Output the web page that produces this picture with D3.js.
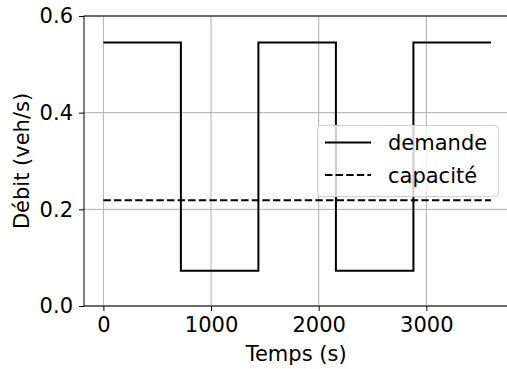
<!DOCTYPE html>
<html><head><meta charset="utf-8">
<script src="https://cdn.jsdelivr.net/npm/d3@7"></script>
<style>body{margin:0;background:#fff}svg{display:block}text{font-family:"DejaVu Sans",sans-serif;fill:#000}</style>
</head><body>
<svg id="c" width="507" height="369"></svg>
<script>
const demandTimes = [0, 720, 1440, 2160, 2880, 3600];
const demandValues = [0.545, 0.073, 0.545, 0.073, 0.545, 0.545];
const capacityTimes = [0, 3600];
const capacityValues = [0.219, 0.219];
const xTicks = [0, 1000, 2000, 3000];
const yTicks = [0.0, 0.2, 0.4, 0.6];
const legendLabels = ["demande", "capacité"];

const svg = d3.select("#c");
const L = 84, R = 510.3, T = 16, B = 306;
const x = d3.scaleLinear().domain([-180, 3780]).range([L, R]);
const y = d3.scaleLinear().domain([0, 0.6]).range([B, T]);
const fs = 21;

// grid
const g = svg.append("g");
g.selectAll(".gx").data(xTicks).enter().append("line")
  .attr("x1", d => x(d)).attr("x2", d => x(d)).attr("y1", T).attr("y2", B)
  .attr("stroke", "#b0b0b0").attr("stroke-width", 1);
g.selectAll(".gy").data(yTicks).enter().append("line")
  .attr("x1", L).attr("x2", R).attr("y1", d => y(d)).attr("y2", d => y(d))
  .attr("stroke", "#b0b0b0").attr("stroke-width", 1);

// lines
const dLine = d3.line().x(d => x(d[0])).y(d => y(d[1])).curve(d3.curveStepAfter);
svg.append("path").datum(demandTimes.map((t, i) => [t, demandValues[i]]))
  .attr("d", dLine).attr("fill", "none").attr("stroke", "#000").attr("stroke-width", 2);
const cLine = d3.line().x(d => x(d[0])).y(d => y(d[1]));
svg.append("path").datum(capacityTimes.map((t, i) => [t, capacityValues[i]]))
  .attr("d", cLine).attr("fill", "none").attr("stroke", "#000").attr("stroke-width", 2)
  .attr("stroke-dasharray", "7.4,3.2");

// axes
const xAxis = svg.append("g").attr("transform", `translate(0,${B})`)
  .call(d3.axisBottom(x).tickValues(xTicks).tickFormat(d3.format("d")).tickSize(5).tickPadding(6));
const yAxis = svg.append("g").attr("transform", `translate(${L},0)`)
  .call(d3.axisLeft(y).tickValues(yTicks).tickFormat(d3.format(".1f")).tickSize(5).tickPadding(6));
[xAxis, yAxis].forEach(a => {
  a.select(".domain").remove();
  a.selectAll("line").attr("stroke", "#000").attr("stroke-width", 1);
  a.selectAll("text").attr("font-size", fs).attr("font-family", "DejaVu Sans").attr("fill", "#000");
});
// spines
svg.append("rect").attr("x", L).attr("y", T).attr("width", R - L).attr("height", B - T)
  .attr("fill", "none").attr("stroke", "#000").attr("stroke-width", 1);

// labels
svg.append("text").attr("x", (L + R) / 2 - 1).attr("y", 361).attr("text-anchor", "middle")
  .attr("font-size", fs).text("Temps (s)");
svg.append("text").attr("transform", `translate(29,${(T + B) / 2 + 0}) rotate(-90)`)
  .attr("text-anchor", "middle").attr("font-size", fs).text("Débit (veh/s)");

// legend
const lg = svg.append("g");
lg.append("rect").attr("x", 317.5).attr("y", 125.5).attr("width", 181).attr("height", 71).attr("rx", 4)
  .attr("fill", "#fff").attr("fill-opacity", 0.8).attr("stroke", "#d0d0d0").attr("stroke-width", 1);
const rows = [{y: 142.5, dash: null}, {y: 175, dash: "7.4,3.2"}];
rows.forEach((r, i) => {
  const ln = lg.append("line").attr("x1", 325).attr("x2", 371).attr("y1", r.y).attr("y2", r.y)
    .attr("stroke", "#000").attr("stroke-width", 2);
  if (r.dash) ln.attr("stroke-dasharray", r.dash);
  lg.append("text").attr("x", 388).attr("y", r.y + 7.5).attr("font-size", fs).text(legendLabels[i]);
});
</script>
</body></html>
